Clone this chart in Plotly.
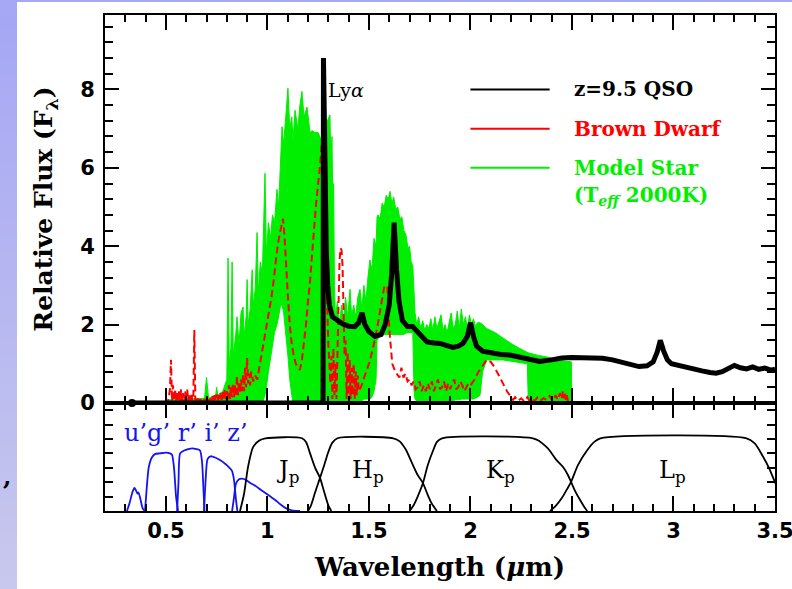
import plotly.graph_objects as go

# ---------------- data ----------------
# z=9.5 QSO template (relative F_lambda) vs wavelength (micron)
qso_wl = [0.333, 0.6, 1.0, 1.274, 1.276, 1.280, 1.285, 1.29, 1.297, 1.305, 1.32, 1.343, 1.37,
          1.40, 1.43, 1.45, 1.466, 1.48, 1.50, 1.53, 1.56, 1.58, 1.60, 1.612, 1.624, 1.636,
          1.648, 1.665, 1.69, 1.715, 1.725, 1.75, 1.786, 1.82, 1.85, 1.88, 1.914, 1.94, 1.963,
          1.985, 2.0, 2.015, 2.03, 2.06, 2.10, 2.15, 2.20, 2.25, 2.30, 2.34, 2.40, 2.45, 2.50,
          2.55, 2.60, 2.65, 2.70, 2.75, 2.79, 2.83, 2.87, 2.90, 2.92, 2.935, 2.95, 2.97, 2.99,
          3.02, 3.06, 3.10, 3.14, 3.18, 3.21, 3.24, 3.27, 3.30, 3.33, 3.36, 3.39, 3.42, 3.45,
          3.48, 3.50]
qso_flux = [0.0, 0.0, 0.0, 0.0, 8.8, 6.8, 5.0, 3.9, 3.0, 2.5, 2.2, 2.1, 2.02,
            1.96, 1.95, 2.05, 2.3, 2.0, 1.82, 1.7, 1.75, 2.0, 2.5, 3.3, 4.6, 3.4,
            2.6, 2.1, 1.95, 1.95, 1.9, 1.75, 1.56, 1.53, 1.52, 1.47, 1.42, 1.45, 1.52,
            1.7, 2.05, 1.7, 1.45, 1.32, 1.27, 1.24, 1.22, 1.17, 1.1, 1.06, 1.1, 1.15, 1.16,
            1.15, 1.17, 1.14, 1.1, 1.04, 0.97, 0.93, 0.95, 1.05, 1.3, 1.6, 1.35, 1.1, 1.0,
            0.96, 0.92, 0.86, 0.82, 0.78, 0.76, 0.8, 0.88, 0.96, 0.9, 0.87, 0.92, 0.86, 0.89,
            0.84, 0.86]

# Brown dwarf spectrum (red dashed)
bd_wl = [0.500, 0.505, 0.510, 0.515, 0.520, 0.525, 0.530, 0.535, 0.540, 0.545, 0.550, 0.555,
         0.560, 0.565, 0.570, 0.575, 0.580, 0.585, 0.590, 0.595, 0.600, 0.605, 0.610, 0.615,
         0.620, 0.625, 0.630, 0.635, 0.640, 0.645, 0.650, 0.655, 0.660, 0.665, 0.670, 0.675,
         0.680, 0.685, 0.690, 0.695, 0.700, 0.705, 0.710, 0.715, 0.720, 0.725, 0.730, 0.735,
         0.740, 0.745, 0.750, 0.755, 0.760, 0.765, 0.770, 0.775, 0.780, 0.785, 0.790, 0.795,
         0.800, 0.805, 0.810, 0.815, 0.820, 0.825, 0.830, 0.835, 0.840, 0.845, 0.850, 0.855,
         0.860, 0.865, 0.870, 0.875, 0.880, 0.885, 0.890, 0.895, 0.900, 0.905, 0.910, 0.915,
         0.920, 0.930, 0.940, 0.95, 0.96,
         0.97, 0.98, 0.99, 1.00, 1.01, 1.02, 1.03, 1.04, 1.05, 1.06, 1.07, 1.077, 1.085, 1.09,
         1.10, 1.11, 1.12, 1.13, 1.14, 1.15, 1.16, 1.17, 1.18, 1.19, 1.20, 1.21, 1.22, 1.23,
         1.24, 1.25, 1.26, 1.27, 1.28, 1.29, 1.30, 1.31, 1.315, 1.32, 1.325, 1.33, 1.335, 1.34,
         1.345, 1.35, 1.355, 1.36, 1.365, 1.37, 1.375, 1.38, 1.385, 1.39, 1.395, 1.40, 1.405,
         1.41, 1.415, 1.42, 1.425, 1.43, 1.435, 1.44, 1.445, 1.45, 1.46, 1.48, 1.50, 1.52, 1.54,
         1.56, 1.575, 1.59, 1.60,
         1.615, 1.63, 1.65, 1.66, 1.67, 1.68, 1.69, 1.70, 1.71, 1.72, 1.73, 1.74, 1.75, 1.76,
         1.77, 1.78, 1.79, 1.80, 1.81, 1.82, 1.83, 1.84, 1.85, 1.86, 1.87, 1.88, 1.89, 1.90,
         1.91, 1.92, 1.93, 1.94, 1.95, 1.96, 1.97, 1.98, 1.99, 2.00, 2.02, 2.04, 2.06, 2.08,
         2.10, 2.12, 2.14, 2.16, 2.18, 2.20, 2.21, 2.22, 2.235, 2.25, 2.265, 2.28, 2.29, 2.30,
         2.315, 2.33, 2.345, 2.36, 2.375, 2.39, 2.405, 2.42, 2.43, 2.44, 2.45, 2.455, 2.46,
         2.465, 2.47, 2.475, 2.48]
bd_flux = [0.00, 0.05, 0.02, 0.15, 0.35, 1.10, 0.05, 0.45, 0.05, 0.35, 0.05, 0.30,
           0.05, 0.30, 0.05, 0.35, 0.05, 0.25, 0.05, 0.30, 0.05, 0.35, 0.05, 0.20,
           0.05, 0.25, 0.05, 0.10, 1.86, 0.05, 0.15, 0.03, 0.12, 0.03, 0.10, 0.03,
           0.12, 0.03, 0.10, 0.03, 0.12, 0.03, 0.15, 0.05, 0.12, 0.05, 0.18, 0.05,
           0.20, 0.05, 0.22, 0.05, 0.20, 0.08, 0.25, 0.08, 0.30, 0.08, 0.35, 0.10,
           0.30, 0.10, 0.45, 0.10, 0.40, 0.15, 0.50, 0.15, 0.45, 0.20, 0.70, 0.20,
           0.55, 0.25, 0.60, 0.30, 0.75, 0.30, 0.90, 0.40, 1.15, 0.50, 0.75, 0.45,
           0.80, 0.55, 0.70, 0.6, 0.9,
           1.2, 1.4, 1.75, 2.0, 2.3, 2.7, 3.1, 3.6, 4.0, 4.3, 4.6, 4.7, 4.2, 3.6,
           2.8, 2.0, 1.5, 1.2, 1.0, 0.9, 0.85, 1.1, 1.5, 2.0, 2.6, 3.1, 3.8, 4.5,
           5.1, 5.6, 6.1, 6.8, 5.0, 3.0, 1.5, 0.5, 1.2, 0.1, 1.4, 0.2, 1.0, 0.1,
           1.6, 2.5, 3.6, 3.95, 3.9, 3.5, 2.2, 1.2, 1.6, 0.1, 1.3, 0.2, 1.1,
           0.1, 0.9, 0.2, 1.0, 0.1, 0.8, 0.2, 0.7, 0.3, 0.4, 0.7, 1.0, 1.4, 1.9,
           2.5, 2.95, 3.0, 1.9,
           1.0, 0.8, 0.65, 0.9, 0.65, 0.75, 0.55, 0.6, 0.45, 0.55, 0.35, 0.4, 0.55, 0.3,
           0.45, 0.3, 0.5, 0.35, 0.55, 0.3, 0.45, 0.6, 0.35, 0.4, 0.55, 0.3, 0.5, 0.35,
           0.5, 0.6, 0.35, 0.4, 0.55, 0.45, 0.3, 0.4, 0.5, 0.45, 0.6, 0.8, 0.95, 1.1,
           1.05, 0.9, 0.7, 0.5, 0.3, 0.15, 0.08, 0.15, 0.05, 0.12, 0.04, 0.15, 0.06, 0.12,
           0.05, 0.14, 0.06, 0.12, 0.08, 0.18, 0.05, 0.2, 0.08, 0.25, 0.1, 0.3, 0.12,
           0.28, 0.08, 0.2, 0.05]

# Model star (T_eff 2000K): very noisy spectrum, given by its upper and lower envelope
star_wl = [0.48, 0.52, 0.60, 0.69, 0.70, 0.71, 0.745, 0.75, 0.755, 0.78, 0.80, 0.806, 0.812,
           0.82, 0.826, 0.832, 0.845, 0.85, 0.86, 0.87, 0.88, 0.885, 0.895, 0.90, 0.905, 0.915,
           0.925, 0.93, 0.94, 0.949, 0.955, 0.965, 0.975, 0.988, 0.995, 1.005, 1.015, 1.025,
           1.035, 1.047, 1.055, 1.065, 1.072, 1.08, 1.09, 1.101, 1.11, 1.12, 1.126, 1.136,
           1.15, 1.16, 1.17, 1.18, 1.195, 1.21, 1.22, 1.234, 1.25, 1.265, 1.28, 1.295, 1.308,
           1.312, 1.318, 1.322, 1.326, 1.33, 1.335, 1.345, 1.355, 1.365, 1.375, 1.385, 1.395,
           1.407, 1.415, 1.425, 1.435, 1.445, 1.456, 1.465, 1.475, 1.485, 1.495, 1.505, 1.515,
           1.525, 1.535, 1.54, 1.545, 1.555, 1.565, 1.575, 1.585, 1.595, 1.604, 1.613, 1.622,
           1.632, 1.642, 1.652, 1.662, 1.672, 1.682, 1.692, 1.70, 1.708, 1.716, 1.722, 1.727,
           1.735, 1.745, 1.755, 1.765, 1.775, 1.785, 1.795, 1.805, 1.815, 1.825, 1.835, 1.845,
           1.855, 1.865, 1.875, 1.885, 1.895, 1.905, 1.915, 1.925, 1.935, 1.945, 1.955, 1.965,
           1.975, 1.985, 1.995, 2.005, 2.015, 2.025, 2.035, 2.047, 2.06, 2.08, 2.12, 2.16,
           2.20, 2.24, 2.28, 2.285, 2.33, 2.40, 2.45, 2.497, 2.50]
star_hi = [0.0, 0.08, 0.1, 0.12, 0.65, 0.12, 0.2, 0.4, 0.2, 0.3, 0.6, 3.7, 1.0,
           1.4, 3.6, 1.2, 1.8, 2.2, 1.5, 2.3, 2.45, 1.7, 2.2, 3.15, 2.0, 2.4,
           3.4, 2.5, 2.9, 4.35, 2.8, 3.6, 3.3, 5.86, 3.8, 4.6, 4.2, 4.8,
           4.6, 5.45, 5.0, 6.2, 7.05, 6.6, 7.3, 8.03, 7.0, 7.3, 6.7, 7.47,
           7.0, 7.6, 7.95, 7.3, 7.55, 6.9, 6.95, 6.9, 6.9, 6.7, 7.1, 7.2, 7.35,
           6.2, 6.8, 5.0, 5.6, 3.0, 2.2, 2.6, 2.0, 2.5, 2.1, 2.7, 2.2,
           2.9, 2.2, 2.5, 2.2, 2.7, 2.9, 2.4, 3.0, 2.6, 3.2, 3.65, 3.4,
           4.2, 4.0, 4.75, 4.8, 4.7, 5.1, 5.0, 5.3, 5.2, 5.4, 5.1, 5.25,
           4.95, 5.0, 4.7, 4.75, 4.4, 4.3, 3.95, 4.0, 3.6, 3.5, 3.0, 2.3,
           2.0, 2.2, 1.9, 2.1, 1.85, 2.0, 1.9, 2.15, 1.85, 2.2, 1.9, 2.05,
           2.25, 1.85, 2.0, 1.8, 2.1, 2.3, 1.9, 2.0, 2.35, 1.9, 2.4, 2.0,
           2.2, 1.9, 2.25, 2.0, 2.15, 1.95, 2.05, 2.05, 2.0, 1.9, 1.8, 1.65,
           1.52, 1.4, 1.3, 1.28, 1.22, 1.15, 1.08, 1.05, 0.0]
star_lo = [0.0, 0.0, 0.0, 0.0, 0.0, 0.0, 0.0, 0.0, 0.0, 0.0, 0.0, 0.0, 0.0,
           0.0, 0.0, 0.0, 0.0, 0.0, 0.0, 0.0, 0.0, 0.0, 0.0, 0.0, 0.0, 0.0,
           0.0, 0.0, 0.0, 0.0, 0.0, 0.0, 0.0, 0.2, 0.4, 0.8, 1.2, 1.5,
           1.8, 2.0, 2.2, 2.5, 2.5, 2.3, 1.8, 1.2, 0.6, 0.2, 0.0, 0.0,
           0.0, 0.0, 0.0, 0.0, 0.0, 0.0, 0.0, 0.0, 0.0, 0.0, 0.0, 0.0, 0.0,
           0.0, 0.0, 0.0, 0.0, 0.0, 0.0, 0.0, 0.0, 0.0, 0.0, 0.0, 0.0,
           0.0, 0.0, 0.0, 0.0, 0.0, 0.0, 0.05, 0.1, 0.1, 0.1, 0.1, 0.15,
           0.3, 0.6, 1.6, 1.65, 1.7, 1.72, 1.75, 1.75, 1.75, 1.75, 1.75, 1.75,
           1.75, 1.75, 1.75, 1.75, 1.75, 1.78, 1.8, 1.8, 1.8, 1.8, 0.3, 0.1,
           0.05, 0.05, 0.05, 0.05, 0.05, 0.05, 0.05, 0.05, 0.05, 0.05, 0.05, 0.05,
           0.05, 0.05, 0.05, 0.05, 0.05, 0.05, 0.05, 0.08, 0.08, 0.08, 0.1, 0.1,
           0.1, 0.1, 0.1, 0.1, 0.1, 0.12, 0.15, 0.2, 0.8, 1.1, 1.1, 1.1,
           1.07, 1.03, 1.0, 0.02, 0.02, 0.02, 0.02, 0.02, 0.0]

# Filter transmission curves (lower panel, arbitrary units)
u_wl = [0.308, 0.32, 0.335, 0.345, 0.352, 0.36, 0.365, 0.375, 0.385, 0.395]
u_tr = [0.0, 0.5, 1.3, 1.6, 1.45, 1.2, 1.3, 0.8, 0.2, 0.0]
g_wl = [0.397, 0.405, 0.415, 0.43, 0.446, 0.47, 0.50, 0.52, 0.53, 0.54, 0.55, 0.56]
g_tr = [0.0, 1.5, 3.0, 3.7, 3.95, 4.0, 4.05, 4.0, 3.9, 3.0, 1.0, 0.0]
r_wl = [0.555, 0.562, 0.57, 0.59, 0.61, 0.63, 0.65, 0.668, 0.678, 0.685, 0.69]
r_tr = [0.0, 2.0, 4.0, 4.2, 4.3, 4.35, 4.3, 4.2, 3.4, 1.5, 0.0]
i_wl = [0.688, 0.695, 0.705, 0.72, 0.745, 0.77, 0.79, 0.81, 0.825, 0.835, 0.845, 0.852]
i_tr = [0.0, 2.0, 3.6, 3.8, 3.7, 3.5, 3.3, 3.05, 2.8, 2.2, 0.8, 0.0]
z_wl = [0.826, 0.835, 0.845, 0.86, 0.875, 0.895, 0.915, 0.94, 0.965, 0.99, 1.015, 1.04,
        1.065, 1.09, 1.12, 1.16]
z_tr = [0.0, 0.9, 1.9, 2.2, 2.25, 2.15, 1.95, 1.75, 1.5, 1.25, 1.0, 0.75, 0.45, 0.2, 0.05, 0.0]
J_wl = [0.865, 0.885, 0.905, 0.93, 0.96, 0.99, 1.17, 1.19, 1.21, 1.235, 1.259, 1.28, 1.30, 1.315]
J_tr = [0.0, 1.2, 3.1, 4.45, 4.9, 5.05, 5.05, 4.8, 4.0, 3.0, 2.3, 1.3, 0.4, 0.0]
H_wl = [1.20, 1.215, 1.235, 1.259, 1.28, 1.30, 1.32, 1.345, 1.62, 1.65, 1.68, 1.71, 1.74,
        1.766, 1.79, 1.81, 1.835]
H_tr = [0.0, 0.4, 1.3, 2.3, 3.2, 4.1, 4.75, 5.05, 5.05, 4.85, 4.3, 3.4, 2.5, 1.94, 1.1, 0.5, 0.0]
K_wl = [1.70, 1.72, 1.74, 1.766, 1.79, 1.816, 1.835, 1.86, 2.308, 2.34, 2.37, 2.39, 2.42,
        2.456, 2.48, 2.496, 2.515, 2.54, 2.56, 2.575]
K_tr = [0.0, 0.4, 1.0, 1.94, 3.2, 4.2, 4.8, 5.05, 5.05, 4.85, 4.5, 4.2, 3.6, 3.05, 2.5,
        2.0, 1.4, 0.76, 0.3, 0.0]
L_wl = [2.392, 2.42, 2.45, 2.475, 2.495, 2.53, 2.574, 2.61, 2.64, 3.36, 3.40, 3.44, 3.47,
        3.50, 3.53]
L_tr = [0.0, 0.35, 0.9, 1.5, 2.0, 3.2, 4.2, 4.8, 5.05, 5.05, 4.7, 3.8, 3.0, 2.0, 1.0]

legend_names = ["z=9.5 QSO", "Brown Dwarf", "Model Star"]
filter_labels = ["J<sub>p</sub>", "H<sub>p</sub>", "K<sub>p</sub>", "L<sub>p</sub>"]
filter_label_wl = [1.10, 1.495, 2.146, 2.993]

assert len(star_wl) == len(star_hi) == len(star_lo)
assert len(bd_wl) == len(bd_flux)
assert len(qso_wl) == len(qso_flux)

# ---------------- styling ----------------
BLACK = "#000000"
RED = "#ff0000"
GREEN = "#00ee00"
BLUE = "#1414f0"
SERIF = "DejaVu Serif"
SANS = "DejaVu Sans"

W, H = 792, 589
L_M, R_M, T_M, B_M = 105, 17, 15, 78
PW, PH = W - L_M - R_M, H - T_M - B_M
split = 108 / PH  # lower panel fraction


def px2x(px):
    return (px - L_M) / PW


def px2y(py):
    return (H - B_M - py) / PH


fig = go.Figure()

# model star (filled envelope)
fig.add_trace(go.Scatter(
    x=star_wl + star_wl[::-1], y=star_hi + star_lo[::-1], mode="lines",
    fill="toself", fillcolor=GREEN, line=dict(color=GREEN, width=1),
    xaxis="x", yaxis="y", showlegend=False, hoverinfo="skip"))
# brown dwarf
fig.add_trace(go.Scatter(
    x=bd_wl, y=bd_flux, mode="lines", line=dict(color=RED, width=2, dash="7px,4px"),
    xaxis="x", yaxis="y", showlegend=False))
# QSO
fig.add_trace(go.Scatter(
    x=qso_wl, y=qso_flux, mode="lines", line=dict(color=BLACK, width=5),
    xaxis="x", yaxis="y", showlegend=False))
fig.add_trace(go.Scatter(
    x=[qso_wl[0]], y=[qso_flux[0]], mode="markers", marker=dict(color=BLACK, size=8),
    xaxis="x", yaxis="y", showlegend=False, cliponaxis=False))

# filters
for wl, tr in [(u_wl, u_tr), (g_wl, g_tr), (r_wl, r_tr), (i_wl, i_tr), (z_wl, z_tr)]:
    fig.add_trace(go.Scatter(x=wl, y=tr, mode="lines",
                             line=dict(color=BLUE, width=1.8, shape="spline", smoothing=0.6),
                             xaxis="x2", yaxis="y2", showlegend=False))
for wl, tr in [(J_wl, J_tr), (H_wl, H_tr), (K_wl, K_tr), (L_wl, L_tr)]:
    fig.add_trace(go.Scatter(x=wl, y=tr, mode="lines",
                             line=dict(color=BLACK, width=1.8, shape="spline", smoothing=0.8),
                             xaxis="x2", yaxis="y2", showlegend=False))

tickfont = dict(family=SANS, size=21, color=BLACK, weight="bold")
common = dict(showline=True, linewidth=2, linecolor=BLACK, mirror="allticks",
              ticks="inside", tickcolor=BLACK, tickwidth=2, showgrid=False, zeroline=False,
              automargin=False)

fig.update_layout(
    width=W, height=H,
    margin=dict(l=L_M, r=R_M, t=T_M, b=B_M, autoexpand=False),
    paper_bgcolor="white", plot_bgcolor="rgba(0,0,0,0)",
    xaxis=dict(domain=[0, 1], range=[0.2, 3.5], anchor="y", showticklabels=False,
               dtick=0.5, tick0=0, ticklen=15,
               minor=dict(dtick=0.1, tick0=0, ticklen=7, tickwidth=1.5, tickcolor=BLACK, ticks="inside"),
               **common),
    yaxis=dict(domain=[split, 1], range=[0, 9.9], anchor="x", dtick=2, tick0=0, ticklen=14,
               minor=dict(dtick=0.4, tick0=0, ticklen=8, tickwidth=1.5, tickcolor=BLACK, ticks="inside"),
               tickfont=tickfont, ticklabelstandoff=4,
               title=dict(text="Relative Flux (F<sub>λ</sub>)", standoff=20,
                          font=dict(family=SERIF, size=25, color=BLACK, weight="bold")),
               **common),
    xaxis2=dict(domain=[0, 1], range=[0.2, 3.5], anchor="y2", dtick=0.5, tick0=0, ticklen=15,
                minor=dict(dtick=0.1, tick0=0, ticklen=7, tickwidth=1.5, tickcolor=BLACK, ticks="inside"),
                tickfont=tickfont, ticklabeloverflow="allow",
                title=dict(text="Wavelength (<i>μ</i>m)", standoff=16,
                           font=dict(family=SERIF, size=26, color=BLACK, weight="bold")),
                **common),
    yaxis2=dict(domain=[0, split], range=[0, 7.5], anchor="x2", dtick=1, tick0=0, ticklen=8,
                showticklabels=False, **common),
)

shapes = []
# slide background strip (lavender gradient) on the left and a thin band on top
N = 40
for k in range(N):
    f = k / (N - 1)
    c = (int(166 + (200 - 166) * f), int(167 + (200 - 167) * f), int(245 - (245 - 238) * f))
    y_top = H * k / N
    y_bot = H * (k + 1) / N + 1
    shapes.append(dict(type="rect", xref="paper", yref="paper", layer="below",
                       x0=px2x(0), x1=px2x(17), y0=px2y(y_bot), y1=px2y(y_top),
                       fillcolor="rgb(%d,%d,%d)" % c, line=dict(width=0)))
shapes.append(dict(type="rect", xref="paper", yref="paper", layer="below",
                   x0=px2x(0), x1=px2x(W), y0=px2y(2), y1=px2y(0),
                   fillcolor="rgb(166,167,245)", line=dict(width=0)))

# legend line samples
legend_colors = [BLACK, RED, GREEN]
legend_y = [8.0, 7.0, 6.0]
for col, yv in zip(legend_colors, legend_y):
    shapes.append(dict(type="line", xref="x", yref="y", x0=2.0, x1=2.39, y0=yv, y1=yv,
                       line=dict(color=col, width=2)))
fig.update_layout(shapes=shapes)

ann = []
for name, col, yv in zip(legend_names, legend_colors, legend_y):
    ann.append(dict(xref="x", yref="y", x=2.5, y=yv, text=name, showarrow=False,
                    xanchor="left", yanchor="middle",
                    font=dict(family=SERIF, size=20, color=col, weight="bold")))
ann.append(dict(xref="x", yref="y", x=2.5, y=5.28, text="(T<sub><i>eff</i></sub> 2000K)",
                showarrow=False, xanchor="left", yanchor="middle",
                font=dict(family=SERIF, size=20, color=GREEN, weight="bold")))
ann.append(dict(xref="x", yref="y", x=1.29, y=7.98, text="Ly<i>α</i>", showarrow=False,
                xanchor="left", yanchor="middle",
                font=dict(family=SERIF, size=19, color=BLACK)))
ann.append(dict(xref="x2", yref="y2", x=0.285, y=5.4, text="u’g’ r’ i’ z’", showarrow=False,
                xanchor="left", yanchor="middle",
                font=dict(family=SERIF, size=24, color=BLUE)))
for lab, xv in zip(filter_labels, filter_label_wl):
    ann.append(dict(xref="x2", yref="y2", x=xv, y=2.75, text=lab, showarrow=False,
                    xanchor="center", yanchor="middle",
                    font=dict(family=SERIF, size=24, color=BLACK)))
ann.append(dict(xref="paper", yref="paper", x=px2x(7), y=px2y(476), text=",", showarrow=False,
                xanchor="center", yanchor="middle",
                font=dict(family=SERIF, size=24, color=BLACK, weight="bold")))
fig.update_layout(annotations=ann)

fig.write_html("out.html")
